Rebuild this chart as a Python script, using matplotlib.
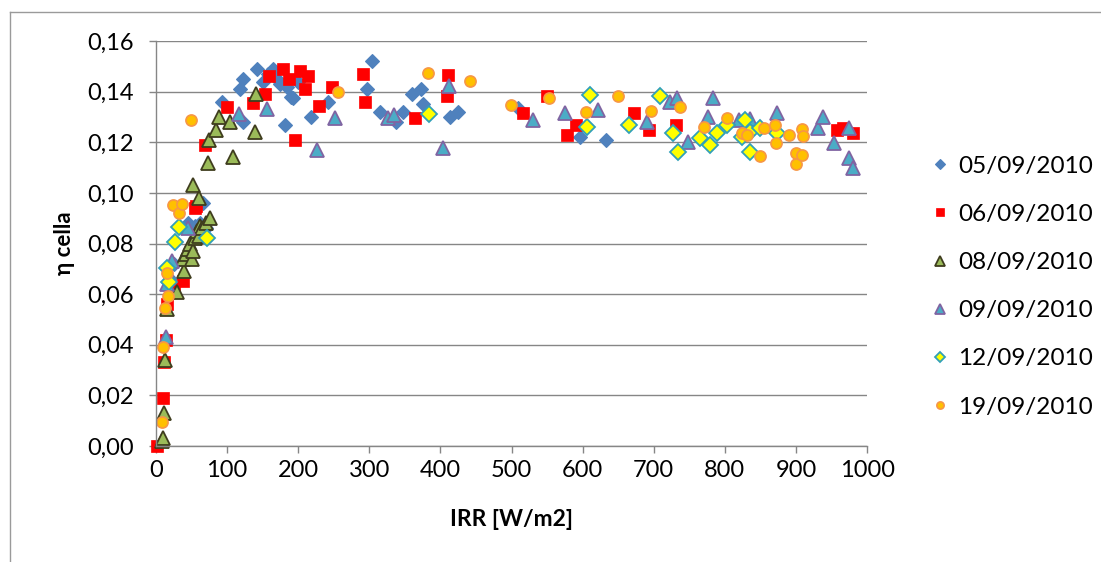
import numpy as np
import matplotlib
matplotlib.use('Agg')
import matplotlib.pyplot as plt
from matplotlib.lines import Line2D
from matplotlib.ticker import FuncFormatter

# IRR [W/m2] and cell efficiency per measurement day
d05_x = [20, 25, 45, 50, 55, 62, 66, 70, 93, 118, 122, 122, 142, 150, 158, 165, 170, 175, 181, 184,
         190, 193, 200, 218, 242, 297, 304, 315, 338, 347, 360, 373, 375, 413, 425, 509, 596, 633]
d05_y = [0.066, 0.072, 0.088, 0.086, 0.087, 0.088, 0.096, 0.086, 0.136, 0.141, 0.145, 0.128, 0.149,
         0.144, 0.147, 0.149, 0.145, 0.143, 0.127, 0.142, 0.138, 0.1375, 0.144, 0.130, 0.136, 0.141,
         0.152, 0.132, 0.128, 0.132, 0.139, 0.141, 0.135, 0.130, 0.132, 0.1335, 0.122, 0.121]

d06_x = [2, 10, 11, 14, 15, 25, 38, 55, 56, 69, 100, 137, 153, 159, 179, 187, 203, 210, 214, 196,
         229, 248, 291, 294, 364, 409, 411, 516, 550, 578, 591, 672, 693, 731, 958, 966, 980]
d06_y = [0.000, 0.019, 0.033, 0.042, 0.056, 0.063, 0.065, 0.094, 0.095, 0.119, 0.134, 0.1355, 0.139,
         0.146, 0.149, 0.145, 0.148, 0.141, 0.146, 0.121, 0.1345, 0.142, 0.147, 0.136, 0.1296, 0.1383,
         0.1466, 0.1316, 0.1383, 0.123, 0.127, 0.1316, 0.125, 0.1268, 0.125, 0.1256, 0.1237]

d08_x = [8, 10, 11, 13, 15, 30, 40, 38, 42, 45, 48, 50, 52, 55, 57, 60, 62, 65, 70, 76, 52, 60,
         73, 75, 84, 89, 104, 108, 139, 141]
d08_y = [0.002, 0.003, 0.013, 0.034, 0.054, 0.061, 0.069, 0.074, 0.076, 0.078, 0.080, 0.074, 0.077,
         0.082, 0.085, 0.083, 0.087, 0.086, 0.088, 0.090, 0.103, 0.098, 0.112, 0.121, 0.125, 0.130,
         0.128, 0.114, 0.124, 0.139]

d09_x = [14, 15, 18, 22, 45, 117, 156, 226, 252, 326, 335, 404, 412, 530, 575, 622, 690, 723, 733,
         748, 776, 783, 820, 835, 873, 931, 938, 954, 975, 975, 980]
d09_y = [0.043, 0.064, 0.067, 0.073, 0.086, 0.131, 0.133, 0.117, 0.1296, 0.1296, 0.1308, 0.1177,
         0.1422, 0.1288, 0.1316, 0.1327, 0.128, 0.136, 0.1375, 0.120, 0.130, 0.1375, 0.1288, 0.129,
         0.1316, 0.1256, 0.130, 0.1197, 0.1256, 0.1138, 0.110]

d12_x = [15, 18, 27, 32, 72, 384, 606, 610, 665, 709, 727, 734, 765, 779, 789, 803, 824, 828, 835,
         835, 849, 873]
d12_y = [0.0703, 0.0648, 0.0806, 0.0865, 0.082, 0.1312, 0.126, 0.1387, 0.1268, 0.1383, 0.1237,
         0.116, 0.1217, 0.119, 0.1237, 0.1268, 0.122, 0.1288, 0.124, 0.116, 0.1256, 0.1237]

d19_x = [8, 10, 13, 17, 15, 24, 32, 36, 49, 256, 383, 442, 499, 553, 605, 650, 696, 737, 770, 803,
         824, 831, 849, 855, 870, 872, 890, 900, 900, 908, 908, 910]
d19_y = [0.0095, 0.039, 0.0545, 0.0593, 0.0684, 0.0952, 0.092, 0.0956, 0.1288, 0.140, 0.1474,
         0.1442, 0.1347, 0.1375, 0.132, 0.1383, 0.1324, 0.134, 0.126, 0.1296, 0.1237, 0.123, 0.1146,
         0.1256, 0.1268, 0.1197, 0.123, 0.1158, 0.1114, 0.1252, 0.115, 0.1225]

labels = ['05/09/2010', '06/09/2010', '08/09/2010', '09/09/2010', '12/09/2010', '19/09/2010']

plt.rcParams['font.family'] = ['Lato', 'DejaVu Sans']
grey = '#868686'

fig = plt.figure(figsize=(11.01, 5.62), dpi=100)
ax = fig.add_axes([0.1417, 0.2064, 0.6458, 0.7206])

series = [
    (d05_x, d05_y, dict(marker='D', ms=7.5, mfc='#4F81BD', mec='#4F81BD', mew=0.8)),
    (d06_x, d06_y, dict(marker='s', ms=8.5, mfc='#FF0000', mec='#FF0000', mew=0.5)),
    (d08_x, d08_y, dict(marker='^', ms=10, mfc='#9BBB59', mec='#3F3D1E', mew=1.3)),
    (d09_x, d09_y, dict(marker='^', ms=10, mfc='#4BACC6', mec='#8064A2', mew=1.3)),
    (d12_x, d12_y, dict(marker='D', ms=7.8, mfc='#FFFF00', mec='#31A0B8', mew=1.3)),
    (d19_x, d19_y, dict(marker='o', ms=8, mfc='#FFC000', mec='#F79646', mew=1.2)),
]
for (x, y, st), lab in zip(series, labels):
    ax.plot(x, y, ls='none', label=lab, clip_on=False, **st)

ax.set_xlim(0, 1000)
ax.set_ylim(0, 0.16)
ax.set_xticks(np.arange(0, 1001, 100))
ax.set_yticks(np.arange(0, 0.1601, 0.02))
ax.yaxis.set_major_formatter(FuncFormatter(lambda v, p: f'{v:.2f}'.replace('.', ',')))
ax.grid(axis='y', color=grey, lw=1)
ax.set_axisbelow(True)
for s in ['top', 'right']:
    ax.spines[s].set_visible(False)
for s in ['left', 'bottom']:
    ax.spines[s].set_color(grey)
    ax.spines[s].set_linewidth(1)
ax.tick_params(axis='both', direction='out', color=grey, length=5, width=1, labelsize=17)
ax.tick_params(axis='y', pad=11)
ax.tick_params(axis='x', pad=5)
ax.set_xlabel('IRR [W/m2]', fontsize=16.5, fontweight='bold', labelpad=20)
ax.set_ylabel('η cella', fontsize=16, fontweight='bold', labelpad=9)

fig.legend(loc='center left', bbox_to_anchor=(0.836, 0.49), frameon=False, fontsize=17.5,
           handlelength=0.6, handletextpad=0.45, labelspacing=1.12, markerscale=0.65, borderpad=0)

# outer chart frame
fig.add_artist(Line2D([9.5 / 1101, 9.5 / 1101], [0, 1 - 12 / 562], color='#9a9a9a', lw=1))
fig.add_artist(Line2D([9.5 / 1101, 1], [1 - 12 / 562, 1 - 12 / 562], color='#9a9a9a', lw=1))

fig.savefig('out.png', dpi=100)
